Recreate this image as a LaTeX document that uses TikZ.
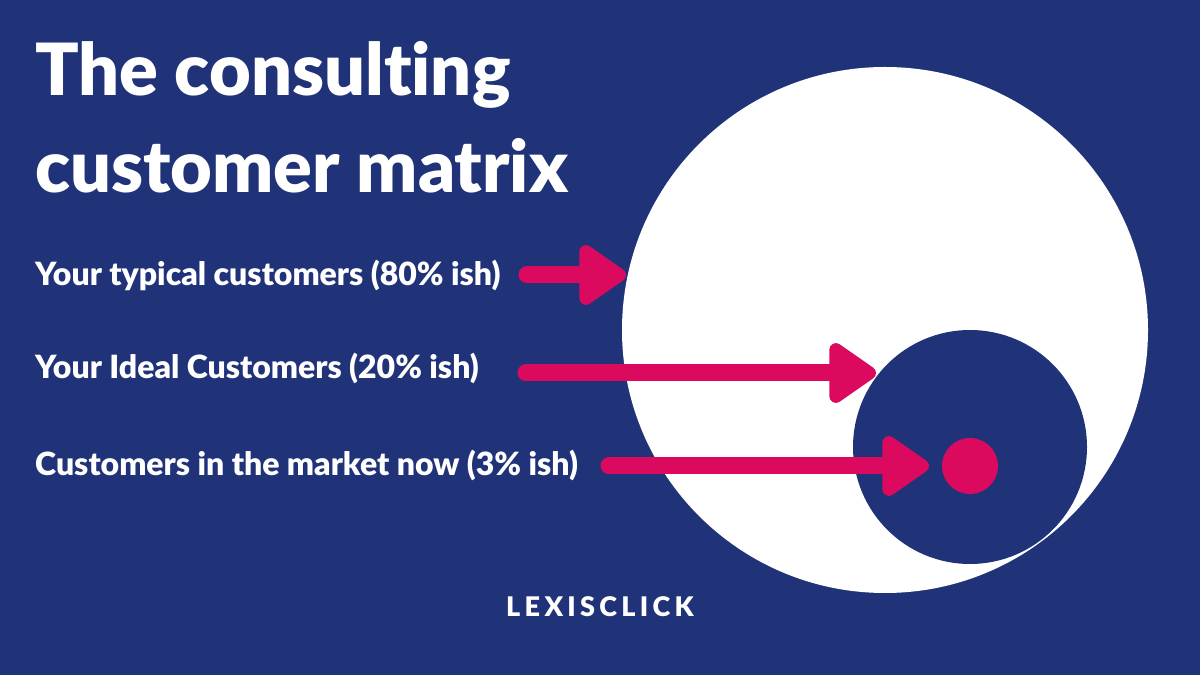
\documentclass[tikz,border=0pt]{standalone}
\usepackage{fontspec}
\setmainfont{Lato}[Ligatures=NoCommon]
\newfontfamily\heavy{Lato Black}[Ligatures=NoCommon]
\usepackage{tikz}
\usetikzlibrary{arrows.meta, positioning, calc}
\definecolor{navy}{HTML}{213378}
\definecolor{magenta}{HTML}{DC0A5E}
\tikzset{
  title/.style={
    anchor=base west, inner sep=0pt, text=white,
    font=\fontsize{72}{86}\selectfont\heavy,
  },
  label/.style={
    anchor=west, inner sep=0pt, text=white,
    font=\fontsize{32}{38}\selectfont\heavy,
  },
  disc/.style={
    circle, inner sep=0pt, draw=none,
  },
  pointer/.style={
    -{Triangle[round, length=52pt, width=68pt]},
    line width=17pt, line cap=round, color=magenta,
  },
}

\begin{document}
\begin{tikzpicture}[x=1pt, y=1pt]
  \fill[navy] (0,0) rectangle (1200,675);
  \useasboundingbox (0,0) rectangle (1200,675);
  % heading
  \node[title] (head1) at (35,579) {The consulting};
  \node[title] (head2) at (35,482) {customer matrix};
  % the three circles
  \node[disc, fill=white, minimum size=526pt] (market) at (885,345) {};
  \node[disc, fill=navy, minimum size=234pt] (ideal) at (970,228) {};
  \node[disc, fill=magenta, minimum size=56pt] (now) at (970,209) {};
  % labels
  \node[label] (typical) at (35,400) {Your typical customers (80\% ish)};
  \node[label] (idealtxt) at (35,307) {Your Ideal Customers (20\% ish)};
  \node[label] (nowtxt) at (35,210) {Customers in the market now (3\% ish)};
  % arrows
  \coordinate (s1) at (527,400);
  \coordinate (s2) at (526,302);
  \coordinate (s3) at (609,209);
  \coordinate (e1) at (626,400);
  \coordinate (e2) at (876,302);
  \coordinate (e3) at (929,209);
  \draw[pointer] (s1) -- (e1);
  \draw[pointer] (s2) -- (e2);
  \draw[pointer] (s3) -- (e3);
  % brand
  \node[text=white, font=\fontsize{27}{30}\selectfont\heavy\addfontfeature{LetterSpace=16}] (brand) at (600,68) {LEXISCLICK};
\end{tikzpicture}
\end{document}
